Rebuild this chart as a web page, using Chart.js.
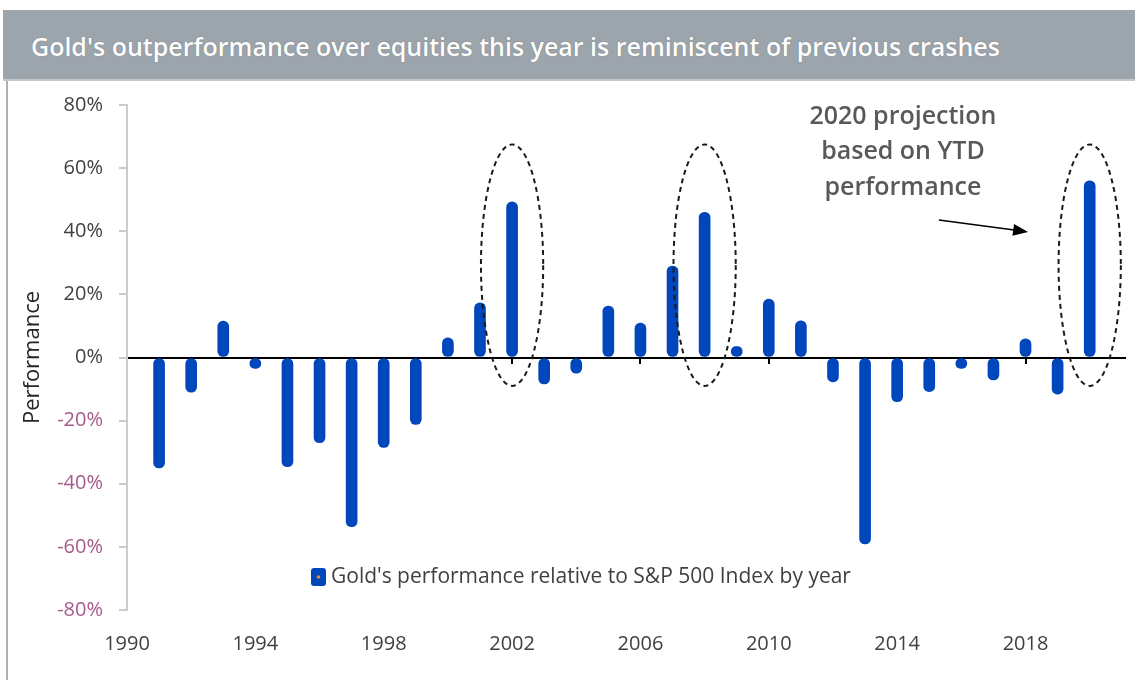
<!DOCTYPE html>
<html>
<head>
<meta charset="utf-8">
<script src="https://cdn.jsdelivr.net/npm/chart.js@4.4.1/dist/chart.umd.min.js"></script>
<style>
  html, body { margin: 0; padding: 0; background: #ffffff; }
  #wrap { position: relative; width: 1135px; height: 680px; overflow: hidden; background: #fff; }
  #band { position: absolute; left: 3px; top: 10px; width: 1132px; height: 69px; background: #9ca4ac;
          border-bottom: 2px solid #c3c9cf; }
  #band span { position: absolute; left: 28px; top: 0; line-height: 72px; color: #ffffff;
          font-family: "Open Sans", sans-serif; font-weight: 600; font-size: 25px; white-space: nowrap;
          letter-spacing: 0px; text-shadow: 0 0 1px rgba(60,60,60,0.5); }
  #frame { position: absolute; left: 6px; top: 81px; width: 2px; height: 599px; background: #aab1b9; }
  #c { position: absolute; left: 0; top: 0; }
</style>
</head>
<body>
<div id="wrap">
  <div id="band"><span id="ttl"></span></div>
  <div id="frame"></div>
  <canvas id="c" width="1135" height="680"></canvas>
</div>
<script>
const chartTitle = "Gold's outperformance over equities this year is reminiscent of previous crashes";
const seriesLabel = "Gold's performance relative to S&P 500 Index by year";
const yAxisTitle = "Performance";
const years = [1991, 1992, 1993, 1994, 1995, 1996, 1997, 1998, 1999, 2000,
               2001, 2002, 2003, 2004, 2005, 2006, 2007, 2008, 2009, 2010,
               2011, 2012, 2013, 2014, 2015, 2016, 2017, 2018, 2019, 2020];
const values = [-35, -11, 11.5, -1, -34.6, -27, -53.6, -28.5, -21.2, 6.2,
                17.3, 49.3, -8.4, -5, 16.3, 10.9, 29, 46, 1, 18.5,
                11.6, -7.7, -59.1, -14, -10.8, -2.5, -7.1, 5.9, -11.6, 56];
const xTickYears = [1990, 1994, 1998, 2002, 2006, 2010, 2014, 2018];
const yTicks = [-80, -60, -40, -20, 0, 20, 40, 60, 80];
const highlightYears = [2002, 2008, 2020];
const noteLines = ["2020 projection", "based on YTD", "performance"];

document.getElementById('ttl').textContent = chartTitle;

const X_MIN = 1990, X_MAX = 2021.1;
const setXTicks = (scale) => { scale.ticks = xTickYears.map(v => ({ value: v })); };

const overlay = {
  id: 'overlay',
  afterDatasetsDraw(chart) {
    const { ctx, chartArea } = chart;
    const xs = chart.scales.x, ys = chart.scales.y;
    ctx.save();
    // dashed ellipses
    ctx.strokeStyle = '#1a1a1a';
    ctx.lineWidth = 2;
    ctx.setLineDash([5, 4]);
    highlightYears.forEach(yr => {
      const cx = xs.getPixelForValue(yr);
      const rx = xs.getPixelForValue(yr + 0.97) - cx;
      const top = ys.getPixelForValue(67.5), bot = ys.getPixelForValue(-9);
      ctx.beginPath();
      ctx.ellipse(cx, (top + bot) / 2, rx, (bot - top) / 2, 0, 0, Math.PI * 2);
      ctx.stroke();
    });
    ctx.setLineDash([]);
    // note text
    ctx.fillStyle = '#595959';
    ctx.font = '600 25px "Open Sans", sans-serif';
    ctx.textAlign = 'center';
    ctx.textBaseline = 'middle';
    const noteY = [76.3, 65.2, 53.7];
    noteLines.forEach((t, i) => ctx.fillText(t, xs.getPixelForValue(2014.18), ys.getPixelForValue(noteY[i])));
    // arrow
    const x1 = xs.getPixelForValue(2015.3), y1 = ys.getPixelForValue(43.6);
    const x2 = xs.getPixelForValue(2018.08), y2 = ys.getPixelForValue(39.8);
    const ang = Math.atan2(y2 - y1, x2 - x1);
    ctx.strokeStyle = '#000';
    ctx.fillStyle = '#000';
    ctx.lineWidth = 1.5;
    ctx.beginPath();
    ctx.moveTo(x1, y1);
    ctx.lineTo(x2 - 12 * Math.cos(ang), y2 - 12 * Math.sin(ang));
    ctx.stroke();
    ctx.beginPath();
    ctx.moveTo(x2, y2);
    ctx.lineTo(x2 - 15 * Math.cos(ang) + 6 * Math.sin(ang), y2 - 15 * Math.sin(ang) - 6 * Math.cos(ang));
    ctx.lineTo(x2 - 15 * Math.cos(ang) - 6 * Math.sin(ang), y2 - 15 * Math.sin(ang) + 6 * Math.cos(ang));
    ctx.closePath();
    ctx.fill();
    // legend
    const lx = chartArea.left + 184, ly = 577;
    ctx.fillStyle = '#0047bb';
    ctx.beginPath();
    if (ctx.roundRect) ctx.roundRect(lx, ly - 9, 15, 18, 3); else ctx.rect(lx, ly - 9, 15, 18);
    ctx.fill();
    ctx.fillStyle = '#f08a24';
    ctx.beginPath();
    ctx.arc(lx + 7.5, ly, 1.8, 0, Math.PI * 2);
    ctx.fill();
    ctx.fillStyle = '#404040';
    ctx.font = '21px "Open Sans", sans-serif';
    ctx.textAlign = 'left';
    ctx.fillText(chart.data.datasets[0].label, lx + 20, ly);
    ctx.restore();
  }
};

new Chart(document.getElementById('c'), {
  type: 'bar',
  data: {
    datasets: [{
      label: seriesLabel,
      data: years.map((yr, i) => ({ x: yr, y: values[i] })),
      backgroundColor: '#0047bb',
      borderWidth: 0,
      barThickness: 11,
      borderRadius: 6,
      borderSkipped: false,
      minBarLength: 11
    }]
  },
  options: {
    responsive: false,
    animation: false,
    layout: { padding: { left: 10, right: 10, top: 105, bottom: 0 } },
    plugins: { legend: { display: false }, tooltip: { enabled: false }, title: { display: false } },
    scales: {
      x: {
        type: 'linear', position: 'bottom', min: X_MIN, max: X_MAX, offset: false,
        afterBuildTicks: setXTicks,
        afterFit(s) { s.height = 70; s.paddingLeft = 0; s.paddingRight = 0; },
        grid: { display: false, drawTicks: false, offset: false },
        border: { display: false },
        ticks: { color: '#404040', font: { family: 'Open Sans', size: 20 }, padding: 22, maxRotation: 0,
                 callback: v => String(v) }
      },
      x0: {
        type: 'linear', position: { y: 0 }, min: X_MIN, max: X_MAX, z: 1, offset: false,
        afterBuildTicks: setXTicks,
        afterFit(s) { s.paddingLeft = 0; s.paddingRight = 0; },
        grid: { display: true, drawOnChartArea: false, drawTicks: true, tickLength: 5, color: '#000', lineWidth: 2, offset: false },
        border: { display: true, color: '#000', width: 2 },
        ticks: { display: false }
      },
      y: {
        type: 'linear', position: 'left', min: -80, max: 80,
        afterBuildTicks(s) { s.ticks = yTicks.map(v => ({ value: v })); },
        afterFit(s) { s.width = 117; s.paddingTop = 0; s.paddingBottom = 0; },
        grid: { drawOnChartArea: false, drawTicks: true, tickLength: 8, color: '#c6ccd2', lineWidth: 2 },
        border: { display: true, color: '#c6ccd2', width: 2 },
        ticks: {
          padding: 16,
          font: { family: 'Open Sans', size: 20 },
          color: c => (c.tick && c.tick.value < 0) ? '#a65a8c' : '#404040',
          callback: v => v + '%'
        },
        title: { display: true, text: yAxisTitle, color: '#262626',
                 font: { family: 'Open Sans', size: 22 }, padding: { top: 10, bottom: 0 } }
      }
    }
  },
  plugins: [overlay]
});
</script>
</body>
</html>
